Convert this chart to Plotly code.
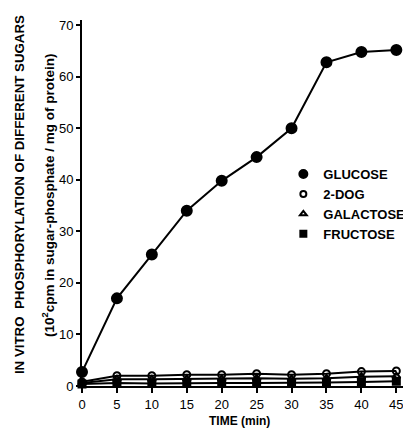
import plotly.graph_objects as go

time = [0, 5, 10, 15, 20, 25, 30, 35, 40, 45]
glucose = [2.7, 17.0, 25.5, 34.0, 39.8, 44.4, 50.0, 62.8, 64.8, 65.2]
dog2 = [0.8, 2.0, 2.0, 2.2, 2.2, 2.4, 2.2, 2.4, 2.8, 2.9]
galactose = [0.6, 1.3, 1.3, 1.4, 1.4, 1.5, 1.4, 1.5, 1.8, 1.9]
fructose = [0.4, 0.6, 0.5, 0.6, 0.6, 0.6, 0.6, 0.7, 0.8, 0.9]
x_ticks = [0, 5, 10, 15, 20, 25, 30, 35, 40, 45]
y_ticks = [0, 10, 20, 30, 40, 50, 60, 70]

FONT = "Liberation Sans"
fig = go.Figure()

series = [
    ("GLUCOSE", glucose, "circle", 10),
    ("2-DOG", dog2, "circle-open", 7),
    ("GALACTOSE", galactose, "triangle-up-open", 7),
    ("FRUCTOSE", fructose, "square", 7),
]
for name, ys, sym, sz in series:
    fig.add_trace(go.Scatter(
        x=time, y=ys, mode="lines+markers", name=name, showlegend=False,
        line=dict(color="black", width=2),
        marker=dict(symbol=sym, size=sz, color="black", line=dict(color="black", width=2)),
        cliponaxis=False,
    ))
for name, ys, sym, sz in series:
    fig.add_trace(go.Scatter(
        x=[None], y=[None], mode="markers", name="<b>" + name + "</b>",
        marker=dict(symbol=sym, size=8 if sym == "circle" else 6, color="black",
                    line=dict(color="black", width=2)),
    ))

# page body has an 8px margin; figure is sized so the plot area lands at x 82-411, y 20-386
fig.update_layout(
    width=403, height=421,
    margin=dict(l=74, r=0, t=12, b=43, autoexpand=False),
    paper_bgcolor="white", plot_bgcolor="white",
    font=dict(family=FONT, color="black", size=13),
    legend=dict(x=0.612, y=0.62, xanchor="left", yanchor="top",
                bgcolor="rgba(0,0,0,0)", font=dict(size=13, family=FONT),
                itemwidth=30, tracegroupgap=0),
    xaxis=dict(range=[0, 47.1], tickvals=x_ticks, ticks="outside", ticklen=5,
               tickwidth=2, tickcolor="black", showline=True, linecolor="black",
               linewidth=2, showgrid=False, zeroline=False, automargin=False,
               tickprefix="<b>", ticksuffix="</b>",
               tickfont=dict(size=13, family=FONT)),
    yaxis=dict(range=[0, 71], tickvals=y_ticks, ticks="outside", ticklen=4,
               tickwidth=2, tickcolor="black", showline=True, linecolor="black",
               linewidth=2, showgrid=False, zeroline=False, automargin=False,
               tickprefix="<b>", ticksuffix="</b>",
               tickfont=dict(size=13, family=FONT)),
)

fig.add_annotation(x=-0.188, y=0.522, xref="paper", yref="paper", textangle=-90,
                   xanchor="center", yanchor="middle",
                   text="<b>IN VITRO  PHOSPHORYLATION OF DIFFERENT SUGARS</b>",
                   showarrow=False, font=dict(size=13.3, family=FONT))
fig.add_annotation(x=-0.103, y=0.522, xref="paper", yref="paper", textangle=-90,
                   xanchor="center", yanchor="middle",
                   text="<b>(10<sup>2</sup>cpm in sugar-phosphate / mg of protein)</b>",
                   showarrow=False, font=dict(size=13.5, family=FONT))
fig.add_annotation(x=0.48, y=-0.096, xref="paper", yref="paper",
                   xanchor="center", yanchor="middle",
                   text="<b>TIME (min)</b>", showarrow=False,
                   font=dict(size=12, family=FONT))

fig.write_html("out.html")
